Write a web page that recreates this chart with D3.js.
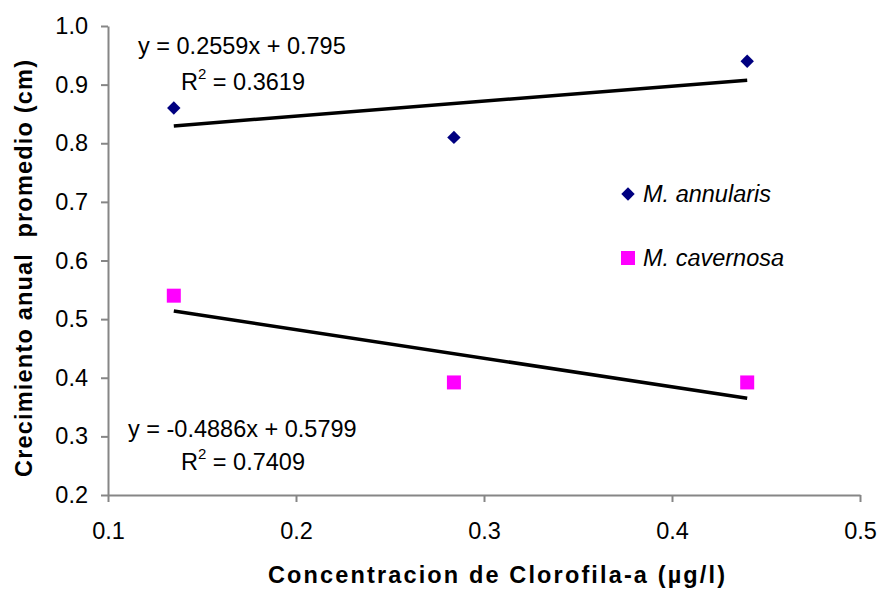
<!DOCTYPE html>
<html><head><meta charset="utf-8">
<script src="https://cdn.jsdelivr.net/npm/d3@7"></script>
<style>
body{margin:0;background:#fff;}
svg{display:block;font-family:"Liberation Sans",Arial,sans-serif;}
</style></head>
<body>
<svg id="c" width="881" height="590"></svg>
<script>
// Data
const chlorophyll = [0.135, 0.284, 0.44];
const annularis = [0.86, 0.81, 0.94];
const cavernosa = [0.54, 0.392, 0.392];
const seriesNames = ["M. annularis", "M. cavernosa"];
const trendAnnularis = {slope: 0.2559, intercept: 0.795};
const trendCavernosa = {slope: -0.4886, intercept: 0.5799};
const eqAnnularis = ["y = 0.2559x + 0.795", "0.3619"];
const eqCavernosa = ["y = -0.4886x + 0.5799", "0.7409"];
const xTicks = [0.1, 0.2, 0.3, 0.4, 0.5];
const yTicks = [0.2, 0.3, 0.4, 0.5, 0.6, 0.7, 0.8, 0.9, 1.0];
const xTitle = "Concentracion de Clorofila-a (µg/l)";
const yTitle = "Crecimiento anual\u00a0 promedio (cm)";

const svg = d3.select("#c");
const x = d3.scaleLinear().domain([0.1, 0.5]).range([108, 860]);
const y = d3.scaleLinear().domain([0.2, 1.0]).range([495, 26]);
const axisColor = "#868686";
const fs = "23.5px";

// axes
const gx = svg.append("g").attr("transform", `translate(0,${y(0.2)})`)
  .call(d3.axisBottom(x).tickValues(xTicks).tickFormat(d3.format(".1f")).tickSizeInner(7).tickSizeOuter(0).tickPadding(20));
const gy = svg.append("g").attr("transform", `translate(${x(0.1)},0)`)
  .call(d3.axisLeft(y).tickValues(yTicks).tickFormat(d3.format(".1f")).tickSizeInner(7).tickSizeOuter(0).tickPadding(13));
[gx, gy].forEach(g => {
  g.select(".domain").attr("stroke", axisColor).attr("stroke-width", 2);
  g.selectAll(".tick line").attr("stroke", axisColor).attr("stroke-width", 2);
  g.selectAll(".tick text").attr("fill", "#000").style("font-size", fs).style("font-family", '"Liberation Sans",Arial,sans-serif');
});
gx.selectAll(".tick text").attr("dy", "0.71em");

// trendlines
const xMin = d3.min(chlorophyll), xMax = d3.max(chlorophyll);
[trendAnnularis, trendCavernosa].forEach(t => {
  svg.append("line")
    .attr("x1", x(xMin)).attr("y1", y(t.slope * xMin + t.intercept))
    .attr("x2", x(xMax)).attr("y2", y(t.slope * xMax + t.intercept))
    .attr("stroke", "#000").attr("stroke-width", 3.5);
});

// markers
const diamond = d3.symbol().type(d3.symbolSquare).size(90);
const square = d3.symbol().type(d3.symbolSquare).size(196);
svg.selectAll(".ann").data(chlorophyll).join("path")
  .attr("d", diamond)
  .attr("transform", (d, i) => `translate(${x(d)},${y(annularis[i])}) rotate(45)`)
  .attr("fill", "#000080");
svg.selectAll(".cav").data(chlorophyll).join("path")
  .attr("d", square)
  .attr("transform", (d, i) => `translate(${x(d)},${y(cavernosa[i])})`)
  .attr("fill", "#FF00FF");

// legend
const leg = [
  {sym: diamond, rot: 45, color: "#000080", yy: 194, name: seriesNames[0]},
  {sym: square, rot: 0, color: "#FF00FF", yy: 258, name: seriesNames[1]}
];
leg.forEach(l => {
  svg.append("path").attr("d", l.sym).attr("transform", `translate(628,${l.yy}) rotate(${l.rot})`).attr("fill", l.color);
  svg.append("text").attr("x", 643).attr("y", l.yy + 8).style("font-size", fs).style("font-style", "italic").text(l.name);
});

// equations
function eq(x0, yb, lines, rx, rb) {
  svg.append("text").attr("x", x0).attr("y", yb).style("font-size", fs).text(lines[0]);
  const t = svg.append("text").attr("x", rx).attr("y", rb).style("font-size", fs);
  t.append("tspan").text("R");
  t.append("tspan").attr("dy", -11).style("font-size", "15px").text("2");
  t.append("tspan").attr("dy", 11).text(" = " + lines[1]);
}
eq(138, 54, eqAnnularis, 181, 90);
eq(128, 437, eqCavernosa, 181, 470);

// axis titles
svg.append("text").attr("x", 268).attr("y", 583)
  .attr("textLength", 457).attr("lengthAdjust", "spacing")
  .style("font-size", fs).style("font-weight", "bold").text(xTitle);
svg.append("text").attr("transform", "translate(32,477) rotate(-90)")
  .attr("textLength", 417).attr("lengthAdjust", "spacing")
  .style("font-size", fs).style("font-weight", "bold").text(yTitle);
</script>
</body></html>
